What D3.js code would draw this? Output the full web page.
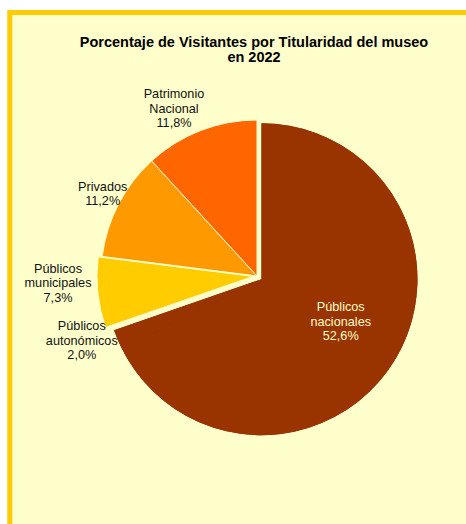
<!DOCTYPE html>
<html>
<head>
<meta charset="utf-8">
<script src="https://cdn.jsdelivr.net/npm/d3@7"></script>
<style>
  html, body { margin: 0; padding: 0; background: #fff; }
  svg { display: block; }
</style>
</head>
<body>
<div id="chart"></div>
<script>
// categorías y valores del gráfico
const categories = ["Públicos nacionales", "Públicos autonómicos", "Públicos municipales", "Privados", "Patrimonio Nacional"];
const labelLines = [["Públicos", "nacionales"], ["Públicos", "autonómicos"], ["Públicos", "municipales"], ["Privados"], ["Patrimonio", "Nacional"]];
// porcentajes escritos en las etiquetas
const labelValues = [52.6, 2.0, 7.3, 11.2, 11.8];
// tamaño de cada porción tal como se dibuja (ángulos)
const sliceShares = [67.7, 2.0, 7.3, 11.2, 11.8];
const titleLines = ["Porcentaje de Visitantes por Titularidad del museo", "en 2022"];

// estilos
const colors = {
  "Públicos nacionales": "#993300",
  "Públicos autonómicos": "#993300",
  "Públicos municipales": "#FFCC00",
  "Privados": "#FF9900",
  "Patrimonio Nacional": "#FF6600"
};
const explodeGroups = [
  { members: ["Públicos nacionales", "Públicos autonómicos"], dist: 5.5 },
  { members: ["Públicos municipales"], dist: 4 }
];
const insideLabels = ["Públicos nacionales"];
const labelNudge = {
  "Públicos nacionales": [13, 1],
  "Públicos autonómicos": [-9, -10],
  "Públicos municipales": [-11, -13],
  "Privados": [10, 2.5],
  "Patrimonio Nacional": [-16, 4.5]
};

const width = 466, height = 524;
const cx = 257, cy = 276, radius = 156, labelRadius = 185;
const font = "Arial, 'Liberation Sans', sans-serif";
const fs = 12.7, lh = 14.5;

const rows = categories.map((c, i) => ({
  cat: c, lines: labelLines[i], value: labelValues[i], share: sliceShares[i]
}));

const svg = d3.select("#chart").append("svg")
  .attr("width", width)
  .attr("height", height);

// marco
svg.append("rect")
  .attr("x", 9.8).attr("y", 12.5)
  .attr("width", 540).attr("height", 580)
  .attr("fill", "#FFFFCC")
  .attr("stroke", "#FFCC00")
  .attr("stroke-width", 5);

// título
svg.append("text")
  .attr("x", 254).attr("y", 46.5)
  .attr("text-anchor", "middle")
  .style("font-family", font)
  .style("font-size", "14.5px")
  .style("font-weight", "bold")
  .attr("fill", "#000")
  .selectAll("tspan")
  .data(titleLines)
  .join("tspan")
    .attr("x", 254)
    .attr("dy", (d, i) => i === 0 ? 0 : 15)
    .text(d => d);

const pie = d3.pie().sort(null).value(d => d.share);
const arcs = pie(rows);
const arc = d3.arc().innerRadius(0).outerRadius(radius);

const g = svg.append("g").attr("transform", `translate(${cx},${cy})`);

// desplazamiento de las porciones separadas (+ fondo común si comparten color)
const offsets = new Map();
explodeGroups.forEach(grp => {
  const parts = arcs.filter(a => grp.members.includes(a.data.cat));
  const a0 = d3.min(parts, a => a.startAngle);
  const a1 = d3.max(parts, a => a.endAngle);
  const mid = (a0 + a1) / 2;
  const o = [Math.sin(mid) * grp.dist, -Math.cos(mid) * grp.dist];
  parts.forEach(a => offsets.set(a.data.cat, o));
  if (parts.length > 1) {
    g.append("path")
      .attr("transform", `translate(${o[0]},${o[1]})`)
      .attr("d", arc({ startAngle: a0, endAngle: a1 }))
      .attr("fill", colors[parts[0].data.cat]);
  }
});
const off = d => offsets.get(d.data.cat) || [0, 0];
const noStroke = new Set(["Públicos nacionales", "Públicos autonómicos"]);

g.selectAll("path.slice")
  .data(arcs)
  .join("path")
    .attr("class", "slice")
    .attr("transform", d => `translate(${off(d)[0]},${off(d)[1]})`)
    .attr("d", arc)
    .attr("fill", d => colors[d.data.cat])
    .attr("stroke", d => noStroke.has(d.data.cat) ? "none" : "#FFFFCC")
    .attr("stroke-width", 1);

// etiquetas
const fmt = v => d3.format(".1f")(v).replace(".", ",") + "%";
const labelArc = d3.arc().innerRadius(labelRadius).outerRadius(labelRadius);

arcs.forEach(d => {
  const inside = insideLabels.includes(d.data.cat);
  const p = inside ? arc.centroid(d) : labelArc.centroid(d);
  const o = off(d);
  const n = labelNudge[d.data.cat] || [0, 0];
  const x = p[0] + o[0] + n[0];
  const y = p[1] + o[1] + n[1];
  const lines = [...d.data.lines, fmt(d.data.value)];
  const y0 = y - (lines.length - 1) / 2 * lh + 0.35 * fs;
  g.append("text")
    .attr("text-anchor", "middle")
    .style("font-family", font)
    .style("font-size", fs + "px")
    .attr("fill", inside ? "#FFFFCC" : "#111")
    .selectAll("tspan")
    .data(lines)
    .join("tspan")
      .attr("x", x)
      .attr("y", (t, i) => y0 + i * lh)
      .text(t => t);
});
</script>
</body>
</html>
